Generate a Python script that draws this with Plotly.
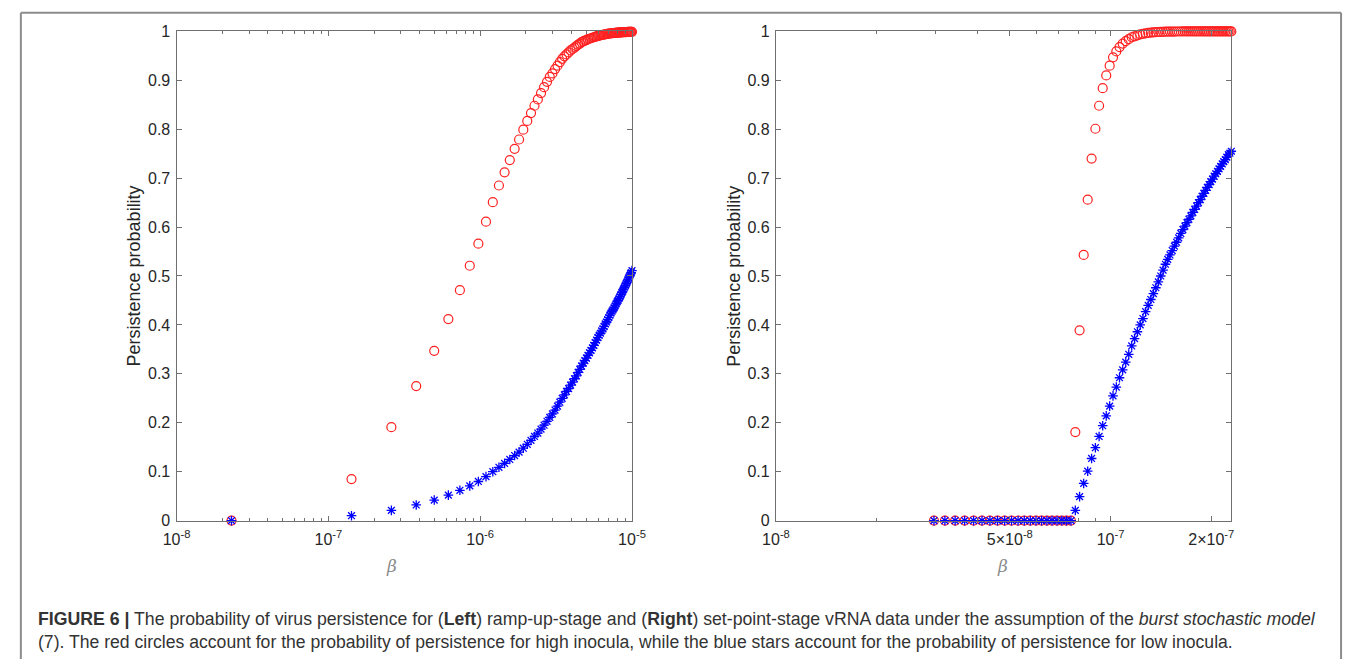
import plotly.graph_objects as go

# ---------------- data ----------------
# Left panel: beta values in units of 1e-7
beta_left_e7 = [0.23, 1.42, 2.60, 3.79, 4.98, 6.17, 7.35, 8.54, 9.73, 10.92,
                12.11, 13.29, 14.48, 15.67, 16.86, 18.04, 19.23, 20.42, 21.61, 22.79,
                23.98, 25.17, 26.36, 27.55, 28.73, 29.92, 31.11, 32.30, 33.48, 34.67,
                35.86, 37.05, 38.23, 39.42, 40.61, 41.80, 42.99, 44.17, 45.36, 46.55,
                47.74, 48.92, 50.11, 51.30, 52.49, 53.68, 54.86, 56.05, 57.24, 58.43,
                59.61, 60.80, 61.99, 63.18, 64.36, 65.55, 66.74, 67.93, 69.12, 70.30,
                71.49, 72.68, 73.87, 75.05, 76.24, 77.43, 78.62, 79.80, 80.99, 82.18,
                83.37, 84.56, 85.74, 86.93, 88.12, 89.31, 90.49, 91.68, 92.87, 94.06,
                95.24, 96.43, 97.62, 98.81, 100.00]
high_left = [0.000, 0.085, 0.191, 0.275, 0.347, 0.412, 0.471, 0.521, 0.566, 0.611,
             0.651, 0.685, 0.712, 0.737, 0.760, 0.779, 0.799, 0.817, 0.833, 0.848,
             0.861, 0.874, 0.886, 0.897, 0.907, 0.914, 0.923, 0.930, 0.937, 0.944,
             0.949, 0.953, 0.957, 0.961, 0.964, 0.967, 0.970, 0.973, 0.975, 0.978,
             0.9795, 0.981, 0.982, 0.984, 0.985, 0.986, 0.987, 0.988, 0.989, 0.990,
             0.991, 0.9915, 0.992, 0.9926, 0.9931, 0.9936, 0.9942, 0.9945, 0.9950, 0.9953,
             0.9957, 0.9960, 0.9962, 0.9964, 0.9967, 0.9969, 0.9971, 0.9973, 0.9975, 0.9976,
             0.9978, 0.9979, 0.9981, 0.9982, 0.9983, 0.9985, 0.9986, 0.9987, 0.9988, 0.9989,
             0.9990, 0.9990, 0.9991, 0.9992, 0.9992]
low_left = [0.000, 0.010, 0.021, 0.032, 0.042, 0.052, 0.062, 0.071, 0.080, 0.090,
            0.100, 0.109, 0.117, 0.125, 0.133, 0.140, 0.148, 0.156, 0.164, 0.172,
            0.179, 0.187, 0.195, 0.203, 0.211, 0.218, 0.226, 0.234, 0.242, 0.250,
            0.257, 0.264, 0.270, 0.277, 0.283, 0.290, 0.296, 0.303, 0.309, 0.316,
            0.322, 0.327, 0.332, 0.338, 0.343, 0.348, 0.353, 0.358, 0.364, 0.369,
            0.374, 0.379, 0.383, 0.388, 0.392, 0.397, 0.402, 0.406, 0.411, 0.415,
            0.420, 0.424, 0.428, 0.431, 0.435, 0.439, 0.443, 0.447, 0.450, 0.454,
            0.458, 0.462, 0.466, 0.469, 0.473, 0.477, 0.481, 0.485, 0.488, 0.492,
            0.496, 0.500, 0.504, 0.507, 0.511]

# Right panel: beta values in units of 1e-9
beta_right_e9 = [29.66, 31.98, 34.31, 36.63, 38.96, 41.28, 43.60, 45.93, 48.25, 50.58,
                 52.90, 55.22, 57.55, 59.87, 62.20, 64.52, 66.84, 69.17, 71.49, 73.82,
                 76.14, 78.46, 80.79, 83.11, 85.44, 87.76, 90.08, 92.41, 94.73, 97.06,
                 99.38, 101.70, 104.03, 106.35, 108.68, 111.00, 113.32, 115.65, 117.97, 120.30,
                 122.62, 124.94, 127.27, 129.59, 131.92, 134.24, 136.56, 138.89, 141.21, 143.54,
                 145.86, 148.18, 150.51, 152.83, 155.16, 157.48, 159.80, 162.13, 164.45, 166.78,
                 169.10, 171.42, 173.75, 176.07, 178.40, 180.72, 183.04, 185.37, 187.69, 190.02,
                 192.34, 194.66, 196.99, 199.31, 201.64, 203.96, 206.28, 208.61, 210.93, 213.26,
                 215.58, 217.90, 220.23, 222.55, 224.88, 227.20, 229.52]
high_right = [0.0, 0.0, 0.0, 0.0, 0.0, 0.0, 0.0, 0.0, 0.0, 0.0,
              0.0, 0.0, 0.0, 0.0, 0.0, 0.0, 0.0, 0.0, 0.0, 0.0,
              0.0, 0.181, 0.389, 0.543, 0.656, 0.740, 0.801, 0.848, 0.884, 0.910,
              0.930, 0.947, 0.959, 0.968, 0.975, 0.980, 0.984, 0.988, 0.990, 0.992,
              0.994, 0.995, 0.996, 0.997, 0.9976, 0.998, 0.9984, 0.9988, 0.9990, 0.9992,
              0.9994, 0.9995, 0.9996, 0.9997, 0.9997, 0.9998, 0.9998, 0.9998, 0.9999, 0.9999,
              0.9999, 0.9999, 0.9999, 1.0, 1.0, 1.0, 1.0, 1.0, 1.0, 1.0,
              1.0, 1.0, 1.0, 1.0, 1.0, 1.0, 1.0, 1.0, 1.0, 1.0,
              1.0, 1.0, 1.0, 1.0, 1.0, 1.0, 1.0]
low_right = [0.0, 0.0, 0.0, 0.0, 0.0, 0.0, 0.0, 0.0, 0.0, 0.0,
             0.0, 0.0, 0.0, 0.0, 0.0, 0.0, 0.0, 0.0, 0.0, 0.0,
             0.0, 0.021, 0.049, 0.076, 0.101, 0.127, 0.149, 0.172, 0.194, 0.214,
             0.234, 0.255, 0.273, 0.292, 0.308, 0.324, 0.340, 0.357, 0.372, 0.386,
             0.400, 0.413, 0.427, 0.440, 0.452, 0.464, 0.476, 0.488, 0.500, 0.512,
             0.524, 0.534, 0.543, 0.552, 0.561, 0.569, 0.578, 0.587, 0.595, 0.602,
             0.609, 0.616, 0.623, 0.630, 0.636, 0.643, 0.650, 0.656, 0.663, 0.669,
             0.675, 0.681, 0.687, 0.693, 0.698, 0.704, 0.709, 0.714, 0.719, 0.724,
             0.729, 0.734, 0.738, 0.743, 0.748, 0.751, 0.755]

# Tick definitions
left_xticks = [1e-8, 1e-7, 1e-6, 1e-5]
left_xticktext = ["10<sup>-8</sup>", "10<sup>-7</sup>", "10<sup>-6</sup>", "10<sup>-5</sup>"]
right_xticks = [1e-8, 5e-8, 1e-7, 2e-7]
right_xticktext = ["10<sup>-8</sup>", "5\u00d710<sup>-8</sup>", "10<sup>-7</sup>", "2\u00d710<sup>-7</sup>"]
yticks = [0, 0.1, 0.2, 0.3, 0.4, 0.5, 0.6, 0.7, 0.8, 0.9, 1.0]
yticktext = ["0", "0.1", "0.2", "0.3", "0.4", "0.5", "0.6", "0.7", "0.8", "0.9", "1"]

left_minor = [m * d for d in (1e-8, 1e-7, 1e-6) for m in (2, 3, 4, 5, 6, 7, 8, 9)]
right_minor = [m * 1e-8 for m in (2, 3, 4, 6, 7, 8, 9)]

caption1 = ("<b>FIGURE 6 |</b> The probability of virus persistence for (<b>Left</b>) ramp-up-stage "
            "and (<b>Right</b>) set-point-stage vRNA data under the assumption of the "
            "<i>burst stochastic model</i>")
caption2 = ("(7). The red circles account for the probability of persistence for high inocula, "
            "while the blue stars account for the probability of persistence for low inocula.")

# ---------------- figure ----------------
W, H = 1358, 668
AX = "#707070"
TXT = "#262626"

x_left = [v * 1e-7 for v in beta_left_e7]
x_right = [v * 1e-9 for v in beta_right_e9]

fig = go.Figure()

def add_panel(x, hi, lo, xa, ya):
    fig.add_trace(go.Scatter(x=x, y=hi, mode="markers", xaxis=xa, yaxis=ya,
                             marker=dict(symbol="circle-open", size=9, color="#ff2020",
                                         line=dict(width=1.2, color="#ff2020")),
                             cliponaxis=False, showlegend=False, hoverinfo="x+y"))
    fig.add_trace(go.Scatter(x=x, y=lo, mode="markers", xaxis=xa, yaxis=ya,
                             marker=dict(symbol="asterisk-open", size=8, color="#0000ff",
                                         line=dict(width=1.3, color="#0000ff")),
                             cliponaxis=False, showlegend=False, hoverinfo="x+y"))

add_panel(x_left, high_left, low_left, "x", "y")
add_panel(x_right, high_right, low_right, "x2", "y2")

ydom = [1 - 526 / H, 1 - 24 / H]
tickfont = dict(family="Liberation Sans", size=16, color=TXT)
common_x = dict(type="log", showline=True, linecolor=AX, linewidth=1.2, mirror="ticks",
                ticks="inside", ticklen=5, tickcolor=AX, tickwidth=1, showgrid=False,
                zeroline=False, tickfont=tickfont, tickmode="array", ticklabelstandoff=4)
common_y = dict(range=[0, 1], showline=True, linecolor=AX, linewidth=1.2, mirror="ticks",
                ticks="inside", ticklen=5, tickcolor=AX, tickwidth=1, showgrid=False,
                zeroline=False, tickfont=tickfont, ticklabelstandoff=2,
                tickmode="array", tickvals=yticks, ticktext=yticktext)

fig.update_layout(
    width=W, height=H, margin=dict(l=0, r=0, t=0, b=0),
    paper_bgcolor="white", plot_bgcolor="white",
    xaxis=dict(common_x, domain=[166 / W, 631 / W], range=[-8, -5],
               tickvals=left_xticks, ticktext=left_xticktext, anchor="y",
               minor=dict(tickmode="array", tickvals=left_minor, ticks="inside",
                          ticklen=3, tickcolor=AX, showgrid=False)),
    yaxis=dict(common_y, domain=ydom, anchor="x"),
    xaxis2=dict(common_x, domain=[778 / W, 1243 / W], range=[-8, -6.639],
                tickvals=right_xticks, ticktext=right_xticktext, anchor="y2",
                minor=dict(tickmode="array", tickvals=right_minor, ticks="inside",
                           ticklen=3, tickcolor=AX, showgrid=False)),
    yaxis2=dict(common_y, domain=ydom, anchor="x2"),
    font=dict(family="Liberation Sans", color=TXT),
)

ann = []
for xpix in (123, 735):
    ann.append(dict(text="Persistence probability", x=xpix / W, y=1 - 275 / H,
                    xref="paper", yref="paper", xanchor="center", yanchor="middle",
                    textangle=-90, showarrow=False,
                    font=dict(family="Liberation Sans", size=18, color=TXT)))
for xpix in (385, 1009):
    ann.append(dict(text="<i>\u03b2</i>", x=xpix / W, y=1 - 573 / H,
                    xref="paper", yref="paper", xanchor="center", yanchor="middle",
                    showarrow=False, font=dict(family="DejaVu Serif", size=17, color="#8a8a8a")))
ann.append(dict(text=caption1, x=22 / W, y=1 - 627 / H, xref="paper", yref="paper",
                xanchor="left", yanchor="middle", showarrow=False,
                font=dict(family="Liberation Sans", size=17.7, color="#333333")))
ann.append(dict(text=caption2, x=22 / W, y=1 - 651 / H, xref="paper", yref="paper",
                xanchor="left", yanchor="middle", showarrow=False,
                font=dict(family="Liberation Sans", size=17.6, color="#333333")))
fig.update_layout(annotations=ann)

# frame around the figure panel
frame = "#8c8c8c"
fig.update_layout(shapes=[
    dict(type="line", xref="paper", yref="paper", x0=7 / W, x1=1355 / W, y0=1 - 5 / H, y1=1 - 5 / H,
         line=dict(color=frame, width=2)),
    dict(type="line", xref="paper", yref="paper", x0=7 / W, x1=7 / W, y0=0, y1=1 - 5 / H,
         line=dict(color=frame, width=2)),
    dict(type="line", xref="paper", yref="paper", x0=1355 / W, x1=1355 / W, y0=0, y1=1 - 5 / H,
         line=dict(color=frame, width=2)),
])

fig.write_html("out.html", config={"displayModeBar": False},
               post_script="document.body.style.margin='0px';document.body.style.overflow='hidden';")
